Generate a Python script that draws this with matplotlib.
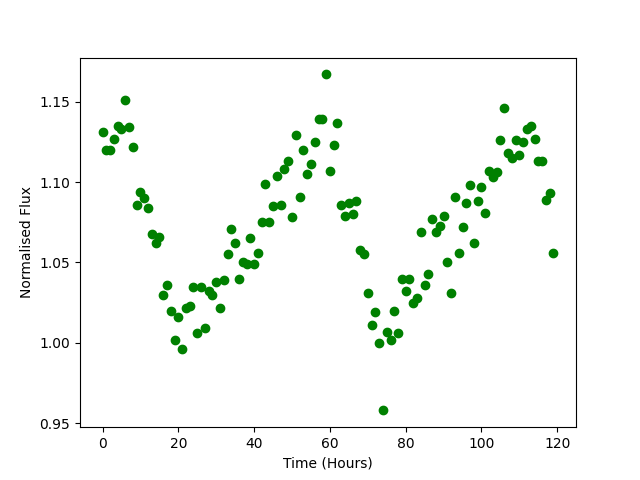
import numpy as np
import matplotlib
matplotlib.use("Agg")
import matplotlib.pyplot as plt

# hourly flux readings
hours = np.arange(0, 120)
flux = [
    1.131, 1.120, 1.120, 1.127, 1.135, 1.133, 1.151, 1.134, 1.122, 1.086,
    1.094, 1.090, 1.084, 1.068, 1.062, 1.066, 1.030, 1.036, 1.020, 1.002,
    1.016, 0.996, 1.022, 1.023, 1.035, 1.006, 1.035, 1.009, 1.032, 1.030,
    1.038, 1.022, 1.039, 1.055, 1.071, 1.062, 1.040, 1.050, 1.049, 1.065,
    1.049, 1.056, 1.075, 1.099, 1.075, 1.085, 1.104, 1.086, 1.108, 1.113,
    1.078, 1.129, 1.091, 1.120, 1.105, 1.111, 1.125, 1.139, 1.139, 1.167,
    1.107, 1.123, 1.137, 1.086, 1.079, 1.087, 1.080, 1.088, 1.058, 1.055,
    1.031, 1.011, 1.019, 1.000, 0.958, 1.007, 1.002, 1.020, 1.006, 1.040,
    1.032, 1.040, 1.025, 1.028, 1.069, 1.036, 1.043, 1.077, 1.069, 1.073,
    1.079, 1.050, 1.031, 1.091, 1.056, 1.072, 1.087, 1.098, 1.062, 1.088,
    1.097, 1.081, 1.107, 1.103, 1.106, 1.126, 1.146, 1.118, 1.115, 1.126,
    1.117, 1.125, 1.133, 1.135, 1.127, 1.113, 1.113, 1.089, 1.093, 1.056,
]

fig = plt.figure(figsize=(6.4, 4.8), dpi=100)
plt.plot(hours, flux, 'go')
plt.xlabel("Time (Hours)")
plt.ylabel("Normalised Flux")
plt.savefig("out.png")
